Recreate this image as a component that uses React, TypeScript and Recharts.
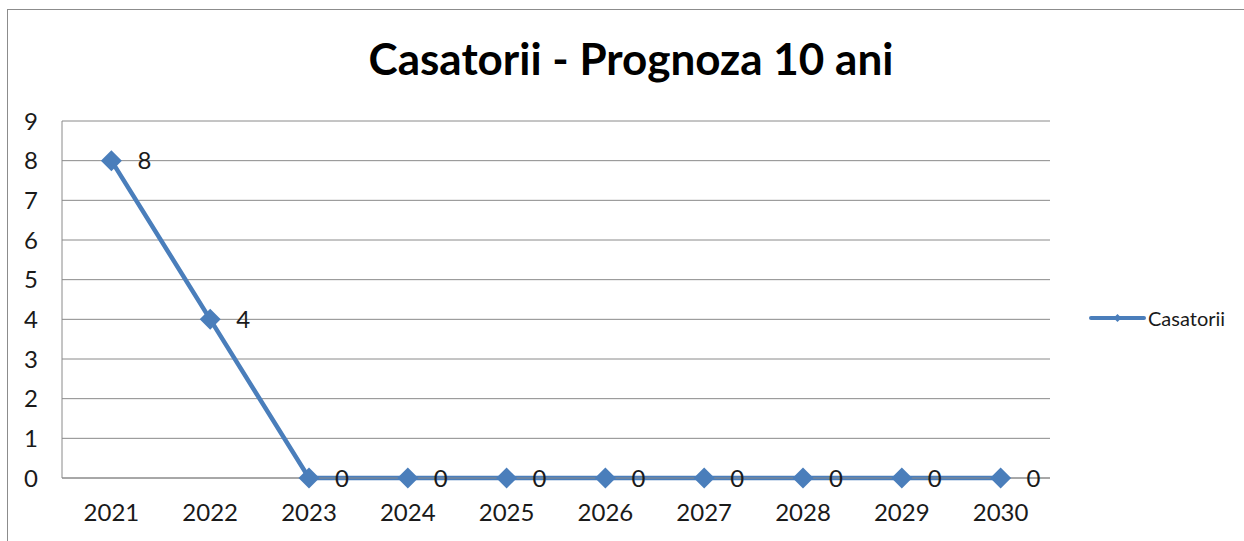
import React from 'react';
import {
    LineChart,
    Line,
    XAxis,
    YAxis,
    CartesianGrid,
    LabelList
} from 'recharts';

const YEARS = ['2021', '2022', '2023', '2024', '2025', '2026', '2027', '2028', '2029', '2030'];
const CASATORII = [8, 4, 0, 0, 0, 0, 0, 0, 0, 0];
const Y_TICKS = [0, 1, 2, 3, 4, 5, 6, 7, 8, 9];

const SERIES_NAME = 'Casatorii';
const TITLE = 'Casatorii - Prognoza 10 ani';

const BLUE = '#4A7EBB';
const GRID = '#8a8a8a';
const TEXT = '#1a1a1a';
const FONT = 'Lato, "Open Sans", sans-serif';

const chartData = YEARS.map((year, i) => ({ year, value: CASATORII[i] }));

// diamond marker like the Excel one
const Diamond = (props: any) => {
    const { cx, cy, index } = props;
    if (cx == null || cy == null) return null;
    const r = 10.5;
    return (
        <polygon
            key={`d-${index}`}
            points={`${cx},${cy - r} ${cx + r},${cy} ${cx},${cy + r} ${cx - r},${cy}`}
            fill={BLUE}
        />
    );
};

// legend drawn by hand, outside the chart so it doesn't eat plot space
const LegendBox = () => (
    <div style={{
        position: 'absolute', left: 1088, top: 306, display: 'flex', alignItems: 'center',
        fontFamily: FONT, fontSize: 20, color: TEXT
    }}>
        <svg width={59} height={14}>
            <line x1={3} y1={7} x2={56} y2={7} stroke={BLUE} strokeWidth={4} strokeLinecap="round" />
            <polygon points="29.5,3 33.5,7 29.5,11 25.5,7" fill={BLUE} />
        </svg>
        <span style={{ marginLeft: 1 }}>{SERIES_NAME}</span>
    </div>
);

const App: React.FC = () => {
    return (
        <div style={{ position: 'absolute', left: 0, top: 0, width: 1244, height: 541, background: '#fff', overflow: 'hidden' }}>
            {/* outer chart frame, only left and top visible in the crop */}
            <div style={{ position: 'absolute', left: 7, top: 9, width: 1300, height: 600, borderLeft: '1px solid #8c8c8c', borderTop: '1px solid #8c8c8c' }} />

            <div style={{
                position: 'absolute', left: 0, top: 32, width: 1262, textAlign: 'center',
                fontFamily: FONT, fontWeight: 700, fontSize: 44, color: '#000'
            }}>
                {TITLE}
            </div>

            <LegendBox />

            <div style={{ position: 'absolute', left: 0, top: 0 }}>
                <LineChart
                    width={1244}
                    height={541}
                    data={chartData}
                    margin={{ top: 121, right: 194, bottom: 0, left: 0 }}
                >
                    <CartesianGrid vertical={false} stroke={GRID} strokeWidth={1} />
                    <XAxis
                        dataKey="year"
                        scale="band"
                        height={63}
                        axisLine={{ stroke: GRID }}
                        tickLine={false}
                        tickSize={0}
                        tickMargin={26}
                        tick={{ fill: TEXT, fontSize: 24, fontFamily: FONT }}
                        interval={0}
                    />
                    <YAxis
                        width={62}
                        domain={[0, 9]}
                        ticks={Y_TICKS}
                        axisLine={{ stroke: GRID }}
                        tickLine={false}
                        tickSize={0}
                        tickMargin={24}
                        tick={{ fill: TEXT, fontSize: 24, fontFamily: FONT }}
                        allowDecimals={false}
                    />
                    <Line
                        type="linear"
                        dataKey="value"
                        name={SERIES_NAME}
                        stroke={BLUE}
                        strokeWidth={4.5}
                        dot={<Diamond />}
                        activeDot={false}
                        isAnimationActive={false}
                    >
                        <LabelList
                            dataKey="value"
                            position="right"
                            offset={26}
                            fill={TEXT}
                            fontSize={24}
                            fontFamily={FONT}
                        />
                    </Line>
                </LineChart>
            </div>
        </div>
    );
};

export default App;
